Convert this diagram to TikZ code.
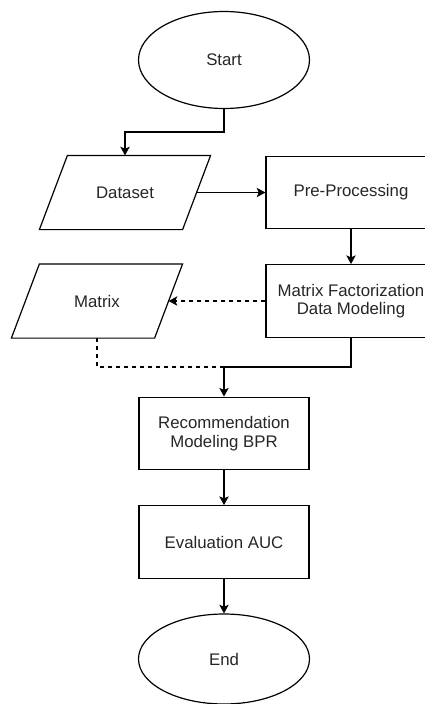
\documentclass[tikz,border=0pt]{standalone}
\usepackage{fontspec}
\setmainfont{Liberation Sans}
\usetikzlibrary{shapes.geometric,arrows.meta}
\begin{document}
\begin{tikzpicture}[x=0.75pt,y=-0.75pt,
  line width=0.9pt,
  every node/.style={font=\fontsize{12.6pt}{14pt}\selectfont, align=center, text=black!85},
  term/.style={draw, ellipse, minimum width=128.25pt, minimum height=72.75pt, inner sep=0pt},
  io/.style={rectangle, minimum width=127.5pt, minimum height=54.75pt, inner sep=0pt},
  proc/.style={draw, rectangle, minimum width=127.5pt, minimum height=54.5pt, inner sep=0pt},
  arr/.style={-{Stealth[length=6.5pt,width=7pt,inset=1.5pt]}}]
\useasboundingbox (0,0) rectangle (425,704);
\clip (0,0) rectangle (425,704);

\node[term] (start) at (224,60) {Start};
\node[io] (dataset) at (125,192.5) {Dataset};
\node[proc] (pre) at (351,192.5) {Pre-Processing};
\node[proc] (mfd) at (351,301) {Matrix Factorization\\Data Modeling};
\node[io] (matrix) at (97,301) {Matrix};
\node[proc] (rec) at (224,433.5) {Recommendation\\Modeling BPR};
\node[proc] (eval) at (224,542) {Evaluation AUC};
\node[term, minimum height=67.5pt] (end) at (224,659) {End};

% parallelogram outlines
\draw ([xshift=21pt]dataset.north west) -- (dataset.north east)
  -- ([xshift=-21pt]dataset.south east) -- (dataset.south west) -- cycle;
\draw ([xshift=21pt]matrix.north west) -- (matrix.north east)
  -- ([xshift=-21pt]matrix.south east) -- (matrix.south west) -- cycle;
\coordinate (dsR) at ([xshift=-10.5pt]dataset.east);
\coordinate (mxR) at ([xshift=-10.5pt]matrix.east);

\coordinate (c1) at (224,132);
\coordinate (j) at (224,367);

\draw[arr] (start) -- (c1) -| (dataset.north);
\draw[arr] (dsR) -- (pre);
\draw[arr] (pre) -- (mfd);
\draw[arr, dashed] (mfd) -- (mxR);
\draw[dashed] (matrix.south) |- (j);
\draw[arr] (mfd) |- (j) -- (rec);
\draw[arr] (rec) -- (eval);
\draw[arr] (eval) -- (end);
\end{tikzpicture}
\end{document}
